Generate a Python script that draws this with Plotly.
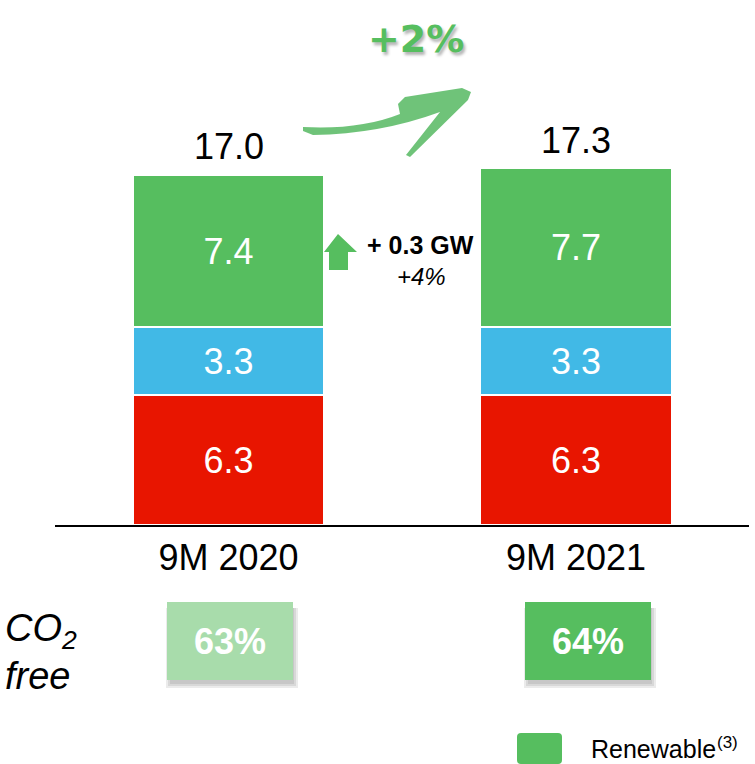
import plotly.graph_objects as go

# ---- data -------------------------------------------------------------
periods = ["9M 2020", "9M 2021"]
thermal = [6.3, 6.3]
nuclear = [3.3, 3.3]
renewable = [7.4, 7.7]
co2_free = [63, 64]          # % of capacity that is CO2 free

# ---- style ------------------------------------------------------------
GREEN = "#56BE5F"
LIGHT_GREEN = "#A8DCAB"
BLUE = "#41B9E6"
RED = "#E81500"
FONT = "Arial, Liberation Sans, sans-serif"

W, H = 755, 764
ML, MR, MT, MB = 55, 6, 0, 239
PW, PH = W - ML - MR, H - MT - MB
PX_PER_GW = 20.6


def px(x):
    """pixel x -> paper x"""
    return (x - ML) / PW


def py(y):
    """pixel y -> paper y"""
    return (H - MB - y) / PH


def path(segments, close=True):
    """Build an SVG path in paper units; every point gets its own command."""
    s = []
    for cmd, pts in segments:
        if cmd == "Q":
            (a, b), (c, d) = pts
            s.append(f"Q{px(a):.5f},{py(b):.5f} {px(c):.5f},{py(d):.5f}")
        else:
            for a, b in pts:
                s.append(f"{cmd}{px(a):.5f},{py(b):.5f}")
                if cmd == "M":
                    cmd = "L"
    return " ".join(s) + (" Z" if close else "")


fig = go.Figure()

for name, vals, color in [("Thermal", thermal, RED),
                          ("Nuclear", nuclear, BLUE),
                          ("Renewable", renewable, GREEN)]:
    fig.add_trace(go.Bar(
        x=periods, y=vals, name=name, width=0.55,
        marker=dict(color=color, line=dict(color="white", width=1.5)),
        text=[f"{v:.1f}" for v in vals], textposition="inside",
        insidetextanchor="middle", constraintext="none",
        textfont=dict(size=36, color="white", family=FONT),
        showlegend=False, hoverinfo="skip",
    ))

totals = [a + b + c for a, b, c in zip(thermal, nuclear, renewable)]
annotations = []
for p, t in zip(periods, totals):
    annotations.append(dict(x=p, y=t, xref="x", yref="y", text=f"{t:.1f}",
                            showarrow=False, yanchor="bottom", yshift=6,
                            font=dict(size=36, color="black", family=FONT)))

shapes = []

# CO2-free boxes with soft drop shadow
boxes = [(167, 602, 293, 680), (525, 602, 651, 680)]
box_colors = [LIGHT_GREEN, GREEN]
for (x0, y0, x1, y1), col, val in zip(boxes, box_colors, co2_free):
    for e in [4, 2, 0]:
        shapes.append(dict(type="rect", xref="paper", yref="paper",
                           x0=px(x0 + 3 - e), x1=px(x1 + 1 + e),
                           y0=py(y0 + 6), y1=py(y1 + 4 + e),
                           fillcolor="rgba(0,0,0,0.08)", line=dict(width=0)))
    shapes.append(dict(type="rect", xref="paper", yref="paper",
                       x0=px(x0), x1=px(x1), y0=py(y0), y1=py(y1),
                       fillcolor=col, line=dict(width=0)))
    annotations.append(dict(x=px((x0 + x1) / 2), y=py((y0 + y1) / 2),
                            xref="paper", yref="paper", text=f"<b>{val}%</b>",
                            showarrow=False, xanchor="center", yanchor="middle",
                            font=dict(size=36, color="white", family=FONT)))

annotations.append(dict(x=px(3), y=py(631), xref="paper", yref="paper",
                        text="<i>CO<sub>2</sub></i>", showarrow=False,
                        xanchor="left", yanchor="middle",
                        font=dict(size=38, color="black", family=FONT)))
annotations.append(dict(x=px(3), y=py(676), xref="paper", yref="paper",
                        text="<i>free</i>", showarrow=False,
                        xanchor="left", yanchor="middle",
                        font=dict(size=38, color="black", family=FONT)))

# renewable growth callout between the bars
delta = renewable[1] - renewable[0]
annotations.append(dict(x=px(420), y=py(245), xref="paper", yref="paper",
                        text=f"<b>+ {delta:.1f} GW</b>", showarrow=False,
                        xanchor="center", yanchor="middle",
                        font=dict(size=25, color="black", family=FONT)))
annotations.append(dict(x=px(421), y=py(276), xref="paper", yref="paper",
                        text=f"<i>+{delta / renewable[0] * 100:.0f}%</i>",
                        showarrow=False, xanchor="center", yanchor="middle",
                        font=dict(size=24, color="black", family=FONT)))
shapes.append(dict(type="path", xref="paper", yref="paper",
                   path=path([("M", [(338, 234)]),
                              ("L", [(357, 252), (348, 252), (348, 270),
                                     (329, 270), (329, 252), (324, 252)])]),
                   fillcolor=GREEN, line=dict(width=0)))

# total growth headline with brush arrow
growth = (totals[1] - totals[0]) / totals[0] * 100
annotations.append(dict(x=px(416), y=py(39), xref="paper", yref="paper",
                        text=f"<b>+{growth:.0f}%</b>", showarrow=False,
                        xanchor="center", yanchor="middle",
                        font=dict(size=38, color=GREEN, family="DejaVu Sans",
                                  shadow="2px 3px 3px rgba(0,0,0,0.3)")))
shapes.append(dict(type="path", xref="paper", yref="paper",
                   path=path([("M", [(303, 127)]),
                              ("Q", [(360, 130), (400, 114)]),
                              ("L", [(398, 104), (405, 97), (462, 88), (471, 92),
                                     (468, 100), (410, 157), (406, 155), (440, 112)]),
                              ("Q", [(380, 134), (313, 135)]),
                              ("L", [(303, 131)])]),
                   fillcolor="rgba(86,185,98,0.85)", line=dict(width=0)))

# legend swatch
shapes.append(dict(type="path", xref="paper", yref="paper",
                   path=path([("M", [(521, 733)]), ("L", [(558, 733)]),
                              ("Q", [(562, 733), (562, 737)]),
                              ("L", [(562, 760)]), ("Q", [(562, 764), (558, 764)]),
                              ("L", [(521, 764)]), ("Q", [(517, 764), (517, 760)]),
                              ("L", [(517, 737)]), ("Q", [(517, 733), (521, 733)])]),
                   fillcolor=GREEN, line=dict(width=0)))
annotations.append(dict(x=px(589), y=py(749), xref="paper", yref="paper",
                        text="Renewable", showarrow=False,
                        xanchor="left", yanchor="middle",
                        font=dict(size=25, color="black", family=FONT)))
annotations.append(dict(x=px(715), y=py(742), xref="paper", yref="paper",
                        text="(3)", showarrow=False,
                        xanchor="left", yanchor="middle",
                        font=dict(size=17, color="black", family=FONT)))

fig.update_layout(
    width=W, height=H, barmode="stack",
    margin=dict(l=ML, r=MR, t=MT, b=MB),
    paper_bgcolor="white", plot_bgcolor="white",
    showlegend=False,
    xaxis=dict(type="category", range=[-0.4993, 1.4978], showline=True,
               linecolor="black", linewidth=2, ticks="", showgrid=False,
               zeroline=False, tickfont=dict(size=36, color="black", family=FONT)),
    yaxis=dict(visible=False, range=[0, PH / PX_PER_GW], fixedrange=True),
    annotations=annotations, shapes=shapes,
)

fig.write_html("out.html")
